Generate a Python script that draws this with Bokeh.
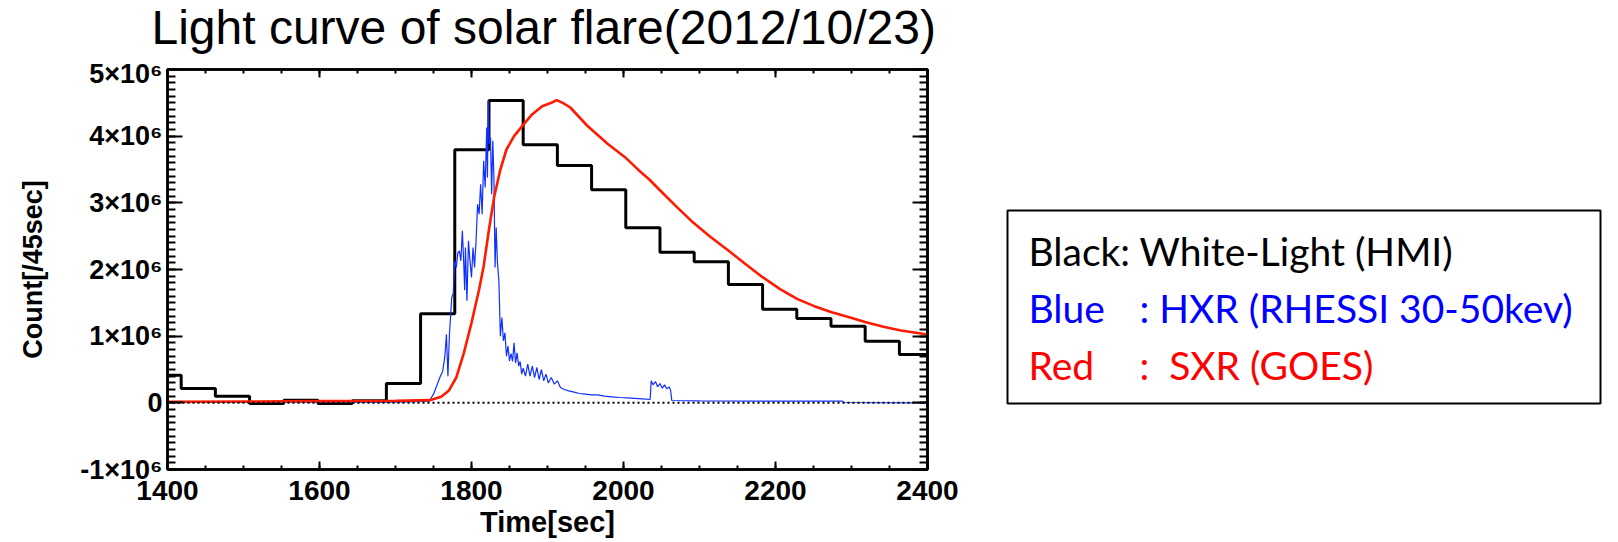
import numpy as np
from bokeh.plotting import figure
from bokeh.models import Range1d, LinearAxis, SingleIntervalTicker, Span, ColumnDataSource
from bokeh.layouts import row, column
from bokeh.embed import file_html
from bokeh.resources import INLINE
from bokeh.core.properties import value

# ---------------- data ----------------
title_text = "Light curve of solar flare(2012/10/23)"
x_label = "Time[sec]"
y_label = "Count[/45sec]"

y_tick_values = [-1000000, 0, 1000000, 2000000, 3000000, 4000000, 5000000]
y_tick_labels = ["-1×10⁶", "0", "1×10⁶", "2×10⁶", "3×10⁶", "4×10⁶", "5×10⁶"]

# HMI white light: 45 s bins (edges) and counts (units of 1e6)
hmi_edges = [1373, 1418, 1463, 1508, 1553, 1598, 1643, 1688, 1733, 1778, 1823,
             1868, 1913, 1958, 2003, 2048, 2093, 2138, 2183, 2228, 2273, 2318,
             2363, 2408]
hmi_counts = [0.415, 0.215, 0.10, -0.01, 0.04, -0.01, 0.03, 0.29, 1.335, 3.795,
              4.535, 3.87, 3.56, 3.195, 2.625, 2.26, 2.115, 1.775, 1.405, 1.265,
              1.15, 0.925, 0.725]

# RHESSI 30-50 keV hard X-ray (units of 1e6)
hxr_time = [1400, 1500, 1600, 1700, 1744, 1750, 1755, 1759, 1762, 1765, 1767,
            1769, 1771, 1774, 1776, 1778, 1780, 1782, 1784, 1786, 1788, 1790,
            1791, 1792, 1794, 1796, 1798, 1800, 1802, 1804, 1806, 1808, 1810,
            1812, 1814, 1816, 1818, 1820, 1821, 1822, 1823.5, 1825, 1826.5,
            1828, 1829.5, 1831, 1832.5, 1834, 1836, 1838, 1840, 1842, 1844,
            1846, 1848, 1850, 1852, 1854, 1856, 1858, 1860, 1862, 1864, 1866,
            1868, 1871, 1874, 1877, 1880, 1883, 1886, 1889, 1892, 1895, 1898,
            1901, 1905, 1909, 1913, 1917, 1922, 1928, 1935, 1942, 1950, 1958,
            1966, 1975, 1985, 1995, 2010, 2025, 2035, 2036.5, 2039, 2042, 2045,
            2048, 2051, 2054, 2057, 2060, 2062, 2063.5, 2100, 2200, 2288, 2290,
            2400]
hxr_counts = [0.01, 0.01, 0.01, 0.01, 0.02, 0.13, 0.28, 0.40, 0.47, 0.70, 1.03,
              0.40, 1.03, 1.58, 1.64, 2.13, 2.03, 2.25, 2.28, 2.13, 2.58, 2.03,
              1.69, 2.33, 1.53, 2.43, 2.13, 1.88, 2.33, 2.03, 2.43, 2.98, 2.83,
              3.28, 2.83, 3.63, 3.23, 4.13, 3.38, 4.53, 3.88, 3.98, 3.13,
              3.93, 3.38, 2.03, 2.63, 2.13, 1.83, 1.00, 1.28, 0.93, 1.05,
              0.70, 0.85, 0.63, 0.74, 0.62, 0.90, 0.60, 0.75, 0.55, 0.62, 0.43,
              0.52, 0.40, 0.58, 0.40, 0.55, 0.38, 0.53, 0.35, 0.50, 0.33, 0.43,
              0.30, 0.38, 0.28, 0.33, 0.23, 0.20, 0.18, 0.16, 0.14, 0.13, 0.12,
              0.12, 0.10, 0.09, 0.08, 0.07, 0.06, 0.05, 0.33, 0.27, 0.32, 0.24,
              0.29, 0.22, 0.27, 0.21, 0.24, 0.19, 0.035, 0.03, 0.025, 0.025, 0.005,
              0.0]

# GOES soft X-ray (units of 1e6)
sxr_time = [1400, 1500, 1600, 1700, 1745, 1760, 1770, 1780, 1790, 1800, 1810,
            1816, 1823, 1830, 1838, 1846, 1856, 1868, 1880, 1893, 1905, 1912,
            1920, 1930, 1952, 1979, 2002, 2020, 2034, 2047, 2070, 2092, 2115,
            2138, 2160, 2183, 2206, 2229, 2251, 2274, 2297, 2319, 2342, 2365,
            2400]
sxr_counts = [0.015, 0.02, 0.025, 0.03, 0.04, 0.09, 0.18, 0.38, 0.75, 1.2, 1.7,
              2.05, 2.6, 3.1, 3.5, 3.8, 4.0, 4.17, 4.33, 4.45, 4.5, 4.54,
              4.5, 4.43, 4.16, 3.885, 3.685, 3.49, 3.35, 3.20, 2.94, 2.70, 2.485,
              2.285, 2.085, 1.885, 1.705, 1.555, 1.45, 1.36, 1.285, 1.21, 1.14,
              1.085, 1.025]

legend_left = ["Black: White-Light (HMI)", "Blue", "Red"]
legend_right = ["", ": HXR (RHESSI 30-50kev)", ":\u00a0 SXR (GOES)"]
legend_colors = ["black", "#0000ff", "#ff0000"]

M = 1e6
step_x = hmi_edges
step_y = [c * M for c in hmi_counts] + [hmi_counts[-1] * M]

FONT = "Liberation Sans"
TITLE_H = 58
MAIN_H = 542 - TITLE_H

# ---------------- title strip ----------------
t = figure(width=1618, height=TITLE_H, x_range=Range1d(150, 1618), y_range=Range1d(TITLE_H, 0),
           output_backend="svg", toolbar_location=None,
           x_axis_location=None, y_axis_location=None,
           min_border_left=150, min_border_right=0, min_border_top=0, min_border_bottom=0)
t.grid.visible = False
t.outline_line_color = None
t.text(x=[151], y=[27], text=[title_text], text_font=value(FONT), text_font_size="48px",
       text_color="black", text_align="left", text_baseline="alphabetic")

# ---------------- main plot ----------------
p = figure(width=960, height=MAIN_H, x_range=Range1d(1400, 2400),
           y_range=Range1d(-1e6, 5e6), output_backend="svg",
           toolbar_location=None, min_border_left=167, min_border_right=33,
           min_border_top=69 - TITLE_H, min_border_bottom=73)
p.grid.visible = False
p.outline_line_color = "black"
p.outline_line_width = 2.5

xa = p.xaxis[0]
xa.ticker = SingleIntervalTicker(interval=200, num_minor_ticks=4)
xa.axis_label = x_label
ya = p.yaxis[0]
ya.ticker = SingleIntervalTicker(interval=1e6, num_minor_ticks=10)
ya.axis_label = y_label
ya.major_label_overrides = dict(zip(y_tick_values, y_tick_labels))

for ax in (xa, ya):
    ax.axis_line_width = 2.5
    ax.major_tick_line_width = 2
    ax.minor_tick_line_width = 2
    ax.major_tick_out = 0
    ax.minor_tick_out = 0
    ax.major_label_text_font = FONT
    ax.major_label_text_font_style = "bold"
    ax.axis_label_text_font = FONT
    ax.axis_label_text_font_style = "bold"
    ax.axis_label_text_color = "black"
    ax.major_label_text_color = "black"

xa.major_tick_in = 8
xa.minor_tick_in = 4
xa.major_label_text_font_size = "28px"
xa.major_label_standoff = 11
xa.axis_label_text_font_size = "29px"
xa.axis_label_standoff = 3

ya.major_tick_in = 15
ya.minor_tick_in = 8
ya.major_label_text_font_size = "27px"
ya.major_label_standoff = 5
ya.axis_label_text_font_size = "27px"
ya.axis_label_standoff = 29

top = LinearAxis(ticker=SingleIntervalTicker(interval=200, num_minor_ticks=4),
                 major_tick_in=8, minor_tick_in=4, major_tick_out=0, minor_tick_out=0,
                 major_label_text_font_size="0px", major_label_text_color=None,
                 major_label_standoff=0,
                 axis_line_width=2.5, major_tick_line_width=2, minor_tick_line_width=2)
right = LinearAxis(ticker=SingleIntervalTicker(interval=1e6, num_minor_ticks=10),
                   major_tick_in=15, minor_tick_in=8, major_tick_out=0, minor_tick_out=0,
                   major_label_text_font_size="0px", major_label_text_color=None,
                   major_label_standoff=0,
                   axis_line_width=2.5, major_tick_line_width=2, minor_tick_line_width=2)
p.add_layout(top, "above")
p.add_layout(right, "right")

p.step(x=step_x, y=step_y, mode="after", line_color="black", line_width=3)
p.line(x=hxr_time, y=[c * M for c in hxr_counts], line_color="#1030ff", line_width=1.2)
p.line(x=sxr_time, y=[c * M for c in sxr_counts], line_color="#ff1a00", line_width=2.6)
p.add_layout(Span(location=0, dimension="width", line_color="black",
                  line_width=2, line_dash="2 3"))

# ---------------- legend panel ----------------
q = figure(width=658, height=MAIN_H, x_range=Range1d(0, 658), y_range=Range1d(469, 69),
           output_backend="svg", toolbar_location=None,
           x_axis_location=None, y_axis_location=None,
           min_border_left=0, min_border_right=0, min_border_top=69 - TITLE_H,
           min_border_bottom=73)
q.grid.visible = False
q.outline_line_color = None
q.quad(left=[47], right=[640], top=[210], bottom=[403], fill_color="white",
       line_color="black", line_width=2)

base_y = [250, 307, 364]
src_a = ColumnDataSource(dict(x=[68, 68, 68], y=base_y, t=legend_left, c=legend_colors))
src_b = ColumnDataSource(dict(x=[179, 179], y=base_y[1:], t=legend_right[1:], c=legend_colors[1:]))
q.text(x="x", y="y", text="t", text_color="c", source=src_a, text_font=value("Lato"),
       text_font_size="39px", text_baseline="alphabetic")
q.text(x="x", y="y", text="t", text_color="c", source=src_b, text_font=value("Lato"),
       text_font_size="39px", text_baseline="alphabetic")

layout = column(t, row(p, q))
open("out.html", "w").write(file_html(layout, INLINE))
